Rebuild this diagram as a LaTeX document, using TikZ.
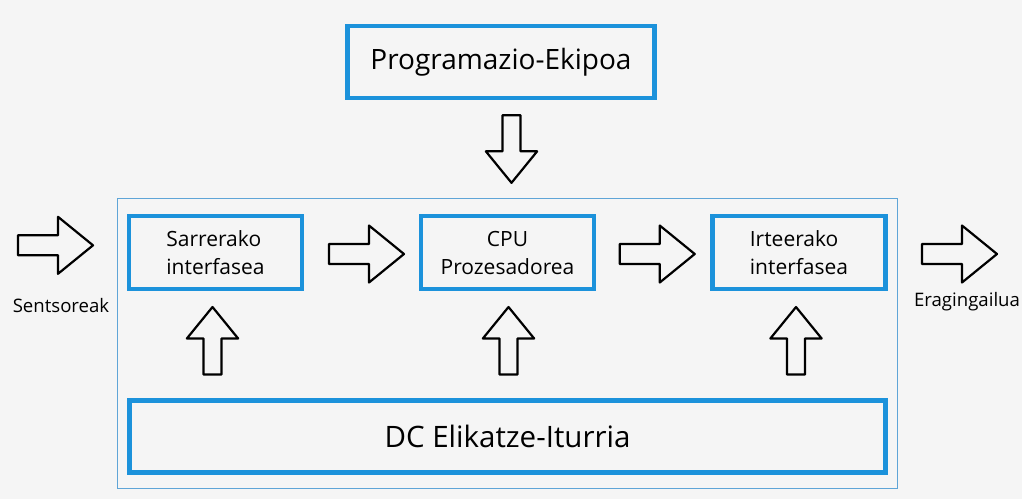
\documentclass[tikz,border=0pt]{standalone}
\usepackage{fontspec}
\setmainfont{Open Sans}
\usetikzlibrary{positioning,calc}
\definecolor{boxblue}{RGB}{28,146,219}
\definecolor{frameblue}{RGB}{95,165,215}
\definecolor{paper}{RGB}{245,245,245}

\tikzset{
  hollow arrow/.style={draw=black,line width=2.2pt,line join=round,fill=paper},
  blockarrow/.pic={
    \draw[hollow arrow] (-37.5,-10) -- (2.5,-10) -- (2.5,-28.5) -- (37.5,0)
      -- (2.5,28.5) -- (2.5,10) -- (-37.5,10) -- cycle;
  }
}

\begin{document}
\begin{tikzpicture}[x=1pt,y=-1pt,
    unit box/.style={draw=boxblue,line width=4.5pt,inner sep=0pt},
    small box/.style={unit box,minimum width=173pt,minimum height=73pt,font=\fontsize{21}{28}\selectfont},
    side label/.style={font=\fontsize{18.6}{22}\selectfont}]

  \fill[paper] (0,0) rectangle (1022,499);
  \useasboundingbox (0,0) rectangle (1022,499);

  % the controller frame
  \node[draw=frameblue,line width=1.2pt,minimum width=780pt,minimum height=290pt,inner sep=0pt] (plc) at (507.5,343.5) {};

  \node[unit box,minimum width=307pt,minimum height=72pt,font=\fontsize{28}{32}\selectfont] (prog) at (501,62) {Programazio-Ekipoa};
  \node[small box,align=left] (in) at (215.5,252.5) {Sarrerako\\interfasea};
  \node[small box,align=center] (cpu) at (507.5,252.5) {CPU\\Prozesadorea};
  \node[small box,align=left] (out) at (799,252.5) {Irteerako\\interfasea};
  \node[unit box,minimum width=756pt,minimum height=72pt,font=\fontsize{29.5}{34}\selectfont] (dc) at (507.5,436.5) {DC Elikatze-Iturria};

  \node[side label] (sens) at (61,306) {Sentsoreak};
  \node[side label] (act) at (967,302) {Eragingailua};

  % block arrows
  \pic at ($(sens.north)+(-5.5,-50)$) {blockarrow};
  \pic at ($(in.east)!0.5!(cpu.west)+(5,1.5)$) {blockarrow};
  \pic at ($(cpu.east)!0.5!(out.west)+(4,1.5)$) {blockarrow};
  \pic at ($(out.east -| act.north)+(-7.5,1.5)$) {blockarrow};
  \pic[rotate=-90,scale=0.9] at ($(prog.south)!0.5!(prog.south |- plc.north)+(10.5,0)$) {blockarrow};
  \foreach \n/\dx in {in/-3,cpu/1,out/-3}
    \pic[rotate=90,scale=0.9] at ($(\n.south)!0.5!(\n.south |- dc.north)+(\dx,-4)$) {blockarrow};
\end{tikzpicture}
\end{document}
